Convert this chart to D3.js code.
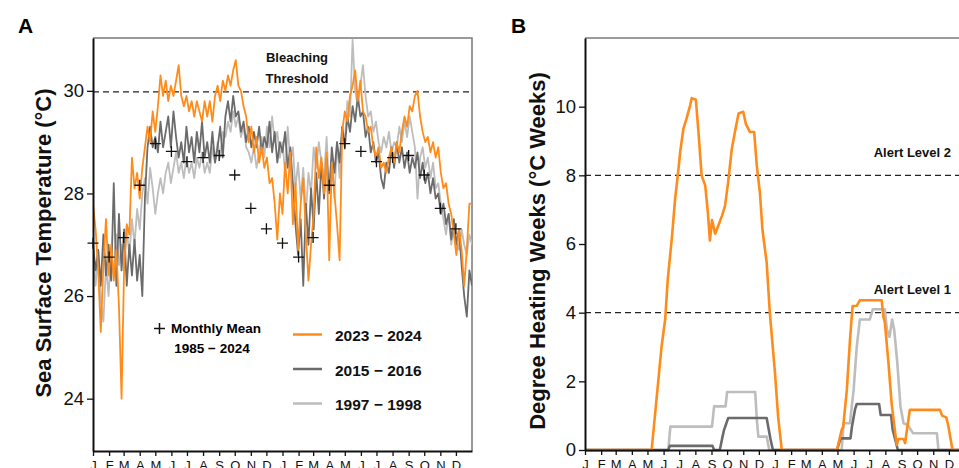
<!DOCTYPE html>
<html>
<head>
<meta charset="utf-8">
<script src="https://cdn.jsdelivr.net/npm/d3@7"></script>
<style>
  body { margin: 0; background: #fff; }
  svg { font-family: "Liberation Sans", Arial, sans-serif; }
</style>
</head>
<body>
<div id="vis"></div>
<script>
// month labels and month start days for two consecutive years
const monthLabels = ["J","F","M","A","M","J","J","A","S","O","N","D","J","F","M","A","M","J","J","A","S","O","N","D"];
const monthStarts = [0, 31, 59, 90, 120, 151, 181, 212, 243, 273, 304, 334];

// 1985-2024 monthly mean SST (°C), Jan..Dec
const monthlyMean = [27.03, 26.76, 27.14, 28.16, 28.97, 28.82, 28.62, 28.70, 28.74, 28.36, 27.71, 27.31];
const bleachingThreshold = 29.98;

// daily SST sampled every 5 days over the two year window
const sstStep = 5;
const sst2023 = [
  27.8, 27.3, 26.5, 25.3, 26.6, 27.5, 26.4, 27.0, 26.3, 26.9,
  25.8, 24.0, 26.6, 27.4, 27.2, 28.7, 28.1, 28.4, 27.9, 28.5,
  28.9, 29.3, 29.0, 29.6, 29.2, 29.7, 30.3, 29.9, 30.2, 29.8,
  30.1, 29.9, 30.2, 30.5, 29.9, 29.7, 29.9, 29.6, 29.8, 29.5,
  29.8, 29.6, 29.4, 29.8, 29.5, 29.8, 29.4, 29.9, 30.1, 29.8,
  30.2, 30.0, 30.3, 30.1, 30.4, 30.6, 30.1, 30.0, 29.7, 29.5,
  29.0, 29.3, 28.8, 29.1, 28.6, 28.9, 28.5, 28.7, 28.2, 28.3,
  27.8, 27.1, 28.0,
  27.6, 28.6, 28.0, 28.8, 27.4, 28.2, 26.9, 27.8, 28.3, 27.2,
  26.3, 27.0, 27.6, 28.9, 28.3, 28.7, 28.0, 28.8, 26.7, 28.6,
  28.0, 27.4, 26.7, 29.2, 29.6, 29.4, 29.9, 30.1, 30.4, 29.8,
  30.2, 29.6, 29.5, 29.2, 29.3, 28.9, 28.7, 28.9, 28.5, 28.6,
  28.4, 28.7, 28.9, 28.6, 29.0, 28.8, 29.2, 29.5, 29.3, 29.7,
  29.6, 29.9, 30.0, 29.5, 29.2, 29.0, 29.1, 28.8, 29.0, 28.7,
  28.9, 28.4, 28.1, 28.2, 27.8, 27.6, 27.2, 26.8, 27.3, 26.9,
  26.2, 26.9, 27.8, 27.8
];
const sst2015 = [
  27.0, 26.5, 26.9, 26.2, 27.2, 26.4, 27.0, 26.3, 28.2, 26.2,
  27.6, 26.5, 27.3, 26.2, 27.0, 26.4, 27.1, 26.3, 26.8, 26.0,
  27.9, 28.9, 29.3, 28.9, 29.1, 28.8, 29.4, 28.9, 29.2, 29.5,
  28.9, 29.6, 29.1, 28.7, 29.0, 28.6, 29.3, 28.8, 29.1, 28.6,
  29.2, 28.8, 29.4, 28.7, 29.0, 28.6, 29.2, 28.6, 28.9, 29.3,
  28.7, 29.5, 29.8, 29.4, 29.9, 29.5, 29.6, 29.2, 29.4, 29.0,
  29.3, 28.9, 29.2, 28.9, 29.3, 28.8, 29.1, 28.9, 29.4, 28.8,
  29.2, 28.6, 29.0,
  28.8, 29.2, 28.5, 28.9, 28.2, 27.4, 26.8, 27.5, 26.2, 27.8,
  27.0, 28.1, 27.3, 28.4, 27.6, 28.6, 27.9, 28.7, 28.0, 28.9,
  28.4, 29.0, 28.6, 29.3, 28.9, 29.5, 29.2, 29.7, 29.4, 29.9,
  29.5, 29.6, 29.1, 29.3, 28.8, 29.0, 28.6, 28.8, 28.3, 28.1,
  28.6, 28.4, 28.9, 28.5, 29.0, 28.6, 28.9, 28.5, 28.8, 28.4,
  28.7, 28.5, 28.8, 28.3, 28.6, 28.2, 28.4, 28.0, 28.3, 27.9,
  28.0, 27.6, 27.8, 27.4, 27.6, 27.1, 27.5, 27.0, 27.3, 26.6,
  26.0, 25.6, 26.5, 26.2
];
const sst1997 = [
  26.8, 26.2, 26.9, 25.9, 25.5, 26.6, 26.0, 26.9, 26.4, 27.2,
  26.6, 27.0, 26.5, 27.3, 26.8, 27.5, 27.0, 27.7, 27.3, 28.0,
  28.3, 27.8, 28.5, 28.1, 27.6, 28.0, 28.3, 28.0, 28.4, 28.6,
  28.2, 28.5, 28.8, 28.4, 28.6, 28.3, 28.7, 28.4, 28.6, 28.3,
  28.7, 28.5, 28.8, 28.4, 28.6, 28.4, 28.9, 28.6, 29.0, 28.7,
  29.2, 29.1, 29.4, 29.2, 29.6, 29.3, 29.5, 29.1, 29.3, 28.9,
  28.8, 28.6, 28.9, 28.5, 28.8, 29.1, 28.7, 29.3, 28.9, 29.5,
  29.0, 29.2, 28.7,
  29.0, 28.4, 29.3, 28.6, 28.9, 28.1, 28.6, 27.9, 28.5, 27.6,
  28.4, 28.0, 28.9, 28.5, 29.0, 28.6, 28.3, 29.1, 28.0, 28.7,
  27.9, 29.0, 28.3, 29.3, 29.0, 29.8, 29.5, 31.0, 30.0, 29.7,
  30.1, 30.5, 29.9, 29.5, 29.6, 29.2, 29.4, 29.0, 28.8, 29.1,
  28.9, 29.2, 28.8, 29.0, 28.9, 29.3, 29.0, 29.4, 29.1, 29.5,
  29.2, 28.9, 27.9, 28.7, 28.9, 28.5, 28.7, 28.3, 28.6, 28.1,
  28.2, 27.8, 27.5, 27.2, 27.6, 27.0, 27.4, 27.1, 26.9, 27.3,
  27.0, 26.8, 27.2, 27.0
];

// degree heating weeks, [day, value]
const dhw2023 = [
  [0, 0], [128, 0], [147, 3.0], [154, 3.8], [159, 4.97], [167, 6.2], [173, 7.3], [179, 8.1],
  [183, 8.7], [189, 9.35], [195, 9.65], [202, 10.04], [205, 10.25], [213, 10.2], [218, 9.26],
  [224, 8.0], [231, 7.7], [236, 6.92], [240, 6.1], [244, 6.7], [250, 6.3], [256, 6.53],
  [263, 6.82], [269, 7.11], [275, 7.8], [282, 8.77], [288, 9.26], [295, 9.8], [304, 9.85],
  [309, 9.5], [317, 9.26], [325, 9.26], [330, 8.28], [336, 7.5], [341, 6.4], [349, 5.46],
  [355, 4.0], [359, 3.3], [365, 2.24], [371, 0.97], [378, 0], [484, 0], [490, 0.39],
  [493, 0.58], [496, 0.68], [503, 1.75], [509, 3.2], [514, 4.19], [522, 4.2], [528, 4.36],
  [570, 4.36], [573, 3.9], [576, 3.72], [583, 2.53], [589, 1.36], [596, 0.49], [599, 0.15],
  [602, 0.32], [612, 0.32], [615, 0.2], [618, 0.54], [624, 1.17], [682, 1.17], [686, 1.0],
  [694, 0.95], [698, 0.7], [706, 0], [730, 0]
];
const dhw2015 = [
  [0, 0], [160, 0], [163, 0.12], [245, 0.12], [248, 0], [259, 0], [263, 0.3], [267, 0.58],
  [275, 0.93], [349, 0.93], [352, 0.68], [356, 0.34], [361, 0], [484, 0], [491, 0.34],
  [510, 0.34], [513, 0.7], [519, 1.2], [522, 1.34], [565, 1.34], [568, 1.02], [588, 1.02],
  [591, 0.6], [601, 0], [730, 0]
];
const dhw1997 = [
  [0, 0], [160, 0], [164, 0.68], [244, 0.68], [248, 1.27], [270, 1.27], [273, 1.69],
  [327, 1.69], [330, 0.9], [333, 0.39], [349, 0.39], [354, 0], [493, 0], [497, 0.78],
  [509, 0.78], [516, 1.75], [522, 3.0], [528, 3.8], [547, 3.8], [553, 4.1], [576, 4.1],
  [580, 3.5], [585, 3.3], [590, 3.8], [594, 3.5], [600, 2.53], [606, 1.27], [612, 0.78],
  [620, 0.73], [630, 0.49], [676, 0.49], [679, 0], [730, 0]
];

const seriesNames = ["2023 \u2212 2024", "2015 \u2212 2016", "1997 \u2212 1998"];
const seriesColours = ["#ff8c1a", "#6b6b6b", "#bdbdbd"];
const alertLevels = [8, 4];

const width = 959;
const height = 468;

const monthTicks = monthStarts.concat(monthStarts.map((d) => d + 365));

const svg = d3
  .select("#vis")
  .append("svg")
  .attr("width", width)
  .attr("height", height);

// ---------- panel A ----------
const xA = d3.scaleLinear().domain([0, 730]).range([93, 472]);
const yA = d3.scaleLinear().domain([22.98, 31.03]).range([451, 38]);

svg.append("clipPath").attr("id", "clipA")
  .append("rect").attr("x", 93).attr("y", 38).attr("width", 379).attr("height", 413);

// frame top and right
svg.append("path")
  .attr("d", `M93,38H472V451`)
  .attr("fill", "none")
  .attr("stroke", "#7a7a7a")
  .attr("stroke-width", 1.5);

svg.append("line")
  .attr("x1", xA(0)).attr("x2", xA(730))
  .attr("y1", yA(bleachingThreshold)).attr("y2", yA(bleachingThreshold))
  .attr("stroke", "#222")
  .attr("stroke-width", 1.2)
  .attr("stroke-dasharray", "6,4");

const sstLine = d3.line()
  .x((d, i) => xA(i * sstStep))
  .y((d) => yA(d));

const sstSeries = [sst2023, sst2015, sst1997];
const gA = svg.append("g").attr("clip-path", "url(#clipA)");
// light grey behind, orange on top
[2, 1, 0].forEach((k) => {
  gA.append("path")
    .attr("d", sstLine(sstSeries[k]))
    .attr("fill", "none")
    .attr("stroke", seriesColours[k])
    .attr("stroke-width", 1.8)
    .attr("stroke-linejoin", "round");
});

// monthly mean crosses
const crossData = monthTicks.map((d, i) => ({ day: d, t: monthlyMean[i % 12] }));
svg.append("g")
  .selectAll("path")
  .data(crossData)
  .enter()
  .append("path")
  .attr("d", (d) => {
    const cx = xA(d.day), cy = yA(d.t);
    return `M${cx - 5.5},${cy}H${cx + 5.5}M${cx},${cy - 5.5}V${cy + 5.5}`;
  })
  .attr("stroke", "#111")
  .attr("stroke-width", 1.3);

function styleAxis(g, fontSize) {
  g.select(".domain").attr("stroke", "#111").attr("stroke-width", 2);
  g.selectAll(".tick line").attr("stroke", "#111").attr("stroke-width", 1.3);
  g.selectAll(".tick text").attr("fill", "#111").style("font-size", fontSize);
  g.attr("font-family", null);
}

svg.append("g")
  .attr("transform", "translate(0,451)")
  .call(d3.axisBottom(xA).tickValues(monthTicks).tickFormat((d, i) => monthLabels[i]).tickSize(5).tickSizeOuter(0).tickPadding(5))
  .call((g) => styleAxis(g, "13px"));

svg.append("g")
  .attr("transform", "translate(93,0)")
  .call(d3.axisLeft(yA).tickValues([24, 26, 28, 30]).tickSize(6).tickSizeOuter(0).tickPadding(3))
  .call((g) => styleAxis(g, "18.5px"));

svg.append("text")
  .attr("transform", "translate(51,243) rotate(-90)")
  .attr("text-anchor", "middle")
  .style("font-size", "22px")
  .style("font-weight", "bold")
  .attr("fill", "#111")
  .text("Sea Surface Temperature (\u00b0C)");

svg.append("text")
  .attr("x", 18).attr("y", 33)
  .style("font-size", "21px").style("font-weight", "bold")
  .text("A");

const thrText = svg.append("text")
  .attr("text-anchor", "middle")
  .style("font-size", "13px")
  .style("font-weight", "bold")
  .attr("fill", "#111");
thrText.append("tspan").attr("x", 297).attr("y", 62).text("Bleaching");
thrText.append("tspan").attr("x", 297).attr("y", 82.5).text("Threshold");

// legend
svg.append("path")
  .attr("d", "M154,328.5H165M159.5,323V334")
  .attr("stroke", "#111")
  .attr("stroke-width", 1.5);
svg.append("text")
  .attr("x", 171).attr("y", 333)
  .style("font-size", "13.5px").style("font-weight", "bold")
  .text("Monthly Mean");
svg.append("text")
  .attr("x", 212).attr("y", 352.5)
  .attr("text-anchor", "middle")
  .style("font-size", "13.5px").style("font-weight", "bold")
  .text("1985 \u2212 2024");

const legend = svg.append("g")
  .selectAll("g")
  .data(seriesNames)
  .enter()
  .append("g")
  .attr("transform", (d, i) => `translate(0,${334.5 + i * 34.5})`);
legend.append("line")
  .attr("x1", 293).attr("x2", 322)
  .attr("stroke", (d, i) => seriesColours[i])
  .attr("stroke-width", 2.5);
legend.append("text")
  .attr("x", 335).attr("y", 6.5)
  .style("font-size", "15.5px").style("font-weight", "bold")
  .attr("fill", "#111")
  .text((d) => d);

// ---------- panel B ----------
const xB = d3.scaleLinear().domain([0, 730]).range([585, 965]);
const yB = d3.scaleLinear().domain([0, 12]).range([450, 38]);

svg.append("line")
  .attr("x1", 585).attr("x2", width)
  .attr("y1", 38).attr("y2", 38)
  .attr("stroke", "#7a7a7a")
  .attr("stroke-width", 1.5);

svg.append("g")
  .selectAll("line")
  .data(alertLevels)
  .enter()
  .append("line")
  .attr("x1", xB(0)).attr("x2", width)
  .attr("y1", (d) => yB(d)).attr("y2", (d) => yB(d))
  .attr("stroke", "#222")
  .attr("stroke-width", 1.2)
  .attr("stroke-dasharray", "6,4");

svg.append("g")
  .selectAll("text")
  .data(alertLevels)
  .enter()
  .append("text")
  .attr("x", 951)
  .attr("y", (d) => yB(d) - 18.5)
  .attr("text-anchor", "end")
  .style("font-size", "13px").style("font-weight", "bold")
  .attr("fill", "#111")
  .text((d, i) => `Alert Level ${2 - i}`);

const dhwLine = d3.line()
  .x((d) => xB(d[0]))
  .y((d) => yB(d[1]));

const dhwSeries = [dhw2023, dhw2015, dhw1997];
[2, 1, 0].forEach((k) => {
  svg.append("path")
    .attr("d", dhwLine(dhwSeries[k]))
    .attr("fill", "none")
    .attr("stroke", seriesColours[k])
    .attr("stroke-width", 2.6)
    .attr("stroke-linejoin", "round");
});

svg.append("g")
  .attr("transform", "translate(0,450)")
  .call(d3.axisBottom(xB).tickValues(monthTicks).tickFormat((d, i) => monthLabels[i]).tickSize(5).tickSizeOuter(0).tickPadding(5))
  .call((g) => styleAxis(g, "13px"));

svg.append("g")
  .attr("transform", "translate(585,0)")
  .call(d3.axisLeft(yB).tickValues([0, 2, 4, 6, 8, 10]).tickSize(6).tickSizeOuter(0).tickPadding(3))
  .call((g) => styleAxis(g, "18.5px"));

svg.append("text")
  .attr("transform", "translate(545,251) rotate(-90)")
  .attr("text-anchor", "middle")
  .style("font-size", "22px")
  .style("font-weight", "bold")
  .attr("fill", "#111")
  .text("Degree Heating Weeks (\u00b0C Weeks)");

svg.append("text")
  .attr("x", 511).attr("y", 33)
  .style("font-size", "21px").style("font-weight", "bold")
  .text("B");
</script>
</body>
</html>
